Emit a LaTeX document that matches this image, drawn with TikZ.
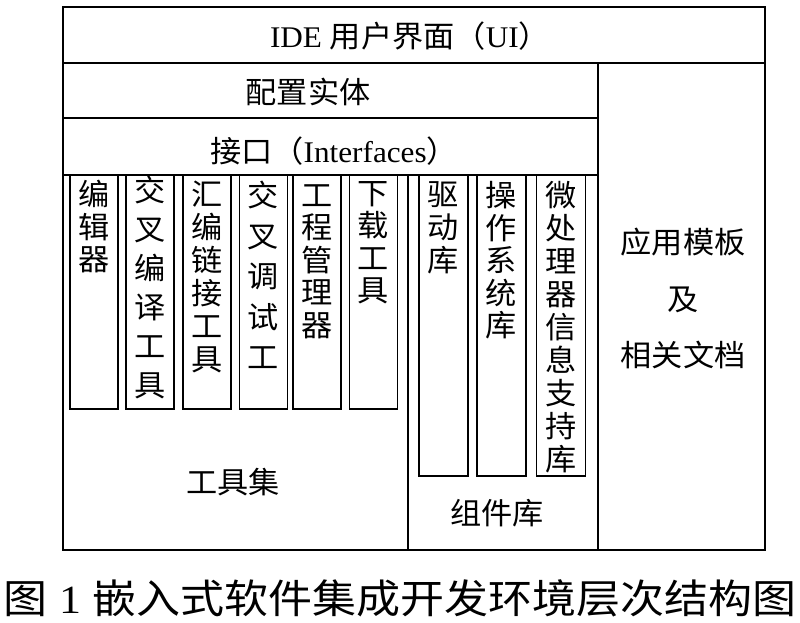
\documentclass[tikz,border=0pt]{standalone}
\usepackage{fontspec}
\setmainfont[FakeStretch=1.04]{Liberation Serif}
\newfontfamily\cjk[FakeStretch=1.04]{Noto Sans CJK SC}
\newfontfamily\cjkw[FakeStretch=1.1]{Noto Sans CJK SC}
\newfontfamily\latw[FakeStretch=1.1]{Liberation Serif}
\begin{document}
\begin{tikzpicture}[x=1pt,y=-1pt,
  frame/.style={draw=black, line width=1.5pt, inner sep=0pt},
  txt/.style={inner sep=0pt, text=black, font=\fontsize{30}{32}\selectfont},
  vtxt/.style={inner sep=0pt, text=black, anchor=north, align=center, font=\cjk\fontsize{30}{32.5}\selectfont},
  vtxta/.style={vtxt, font=\cjk\fontsize{30}{33}\selectfont},
  vtxtw/.style={vtxt, font=\cjk\fontsize{30}{39}\selectfont},
  vtxtx/.style={vtxt, font=\cjk\fontsize{30}{40.5}\selectfont},
  tbox/.style={frame, minimum width=48pt, minimum height=234pt},
  cbox/.style={frame, minimum width=49pt, minimum height=301pt}]
\useasboundingbox (0,0) rectangle (800,622);
\fill[white] (0,0) rectangle (800,622);
% main regions
\node[frame, minimum width=702pt, minimum height=56pt] (ui) at (414,35) {};
\node[frame, minimum width=535pt, minimum height=55pt] (cfg) at (330.5,90.5) {};
\node[frame, minimum width=535pt, minimum height=57pt] (itf) at (330.5,146.5) {};
\node[frame, minimum width=167pt, minimum height=487pt] (tpl) at (681.5,306.5) {};
\node[frame, minimum width=345pt, minimum height=375pt] (tools) at (235.5,362.5) {};
\node[frame, minimum width=190pt, minimum height=375pt] (comp) at (503,362.5) {};
% texts of rows
\node[txt] (uit) at (410,36) {IDE {\cjk 用户界面（}UI{\cjk ）}};
\node[txt] (cfgt) at (308,92) {\cjk 配置实体};
\node[txt] (itft) at (334,151) {{\cjk 接口（}Interfaces{\cjk ）}};
% tool boxes
\node[tbox] (t1) at (94,292) {};
\node[tbox] (t2) at (150,292) {};
\node[tbox] (t3) at (207,292) {};
\node[tbox] (t4) at (263.5,292) {};
\node[tbox] (t5) at (317,292) {};
\node[tbox] (t6) at (373.5,292) {};
\node[vtxt] at ([yshift=-6pt]t1.north) {编\\辑\\器};
\node[vtxtw] at ([yshift=-2pt]t2.north) {交\\叉\\编\\译\\工\\具};
\node[vtxta] at ([yshift=-7pt]t3.north) {汇\\编\\链\\接\\工\\具};
\node[vtxtx] at ([yshift=-7pt]t4.north) {交\\叉\\调\\试\\工};
\node[vtxt] at ([yshift=-10pt]t5.north) {工\\程\\管\\理\\器};
\node[vtxt] at ([yshift=-7pt]t6.north) {下\\载\\工\\具};
\node[txt] (toolst) at (233,482) {\cjk 工具集};
% component boxes
\node[cbox] (c1) at (443.5,325.5) {};
\node[cbox] (c2) at (501.5,325.5) {};
\node[cbox] (c3) at (561,325.5) {};
\node[vtxta] at ([yshift=-7pt]c1.north) {驱\\动\\库};
\node[vtxt] at ([yshift=-7pt]c2.north) {操\\作\\系\\统\\库};
\node[vtxta] at ([yshift=-7pt]c3.north) {微\\处\\理\\器\\信\\息\\支\\持\\库};
\node[txt] (compt) at (497,513) {\cjk 组件库};
% templates
\node[txt] (tpl1) at (683,242) {\cjk 应用模板};
\node[txt] (tpl2) at (683,300) {\cjk 及};
\node[txt] (tpl3) at (683,355) {\cjk 相关文档};
% caption
\node[inner sep=0pt, font=\latw\fontsize{40}{42}\selectfont] (cap) at (400,598) {{\cjkw 图} 1 {\cjkw 嵌入式软件集成开发环境层次结构图}};
\end{tikzpicture}
\end{document}
